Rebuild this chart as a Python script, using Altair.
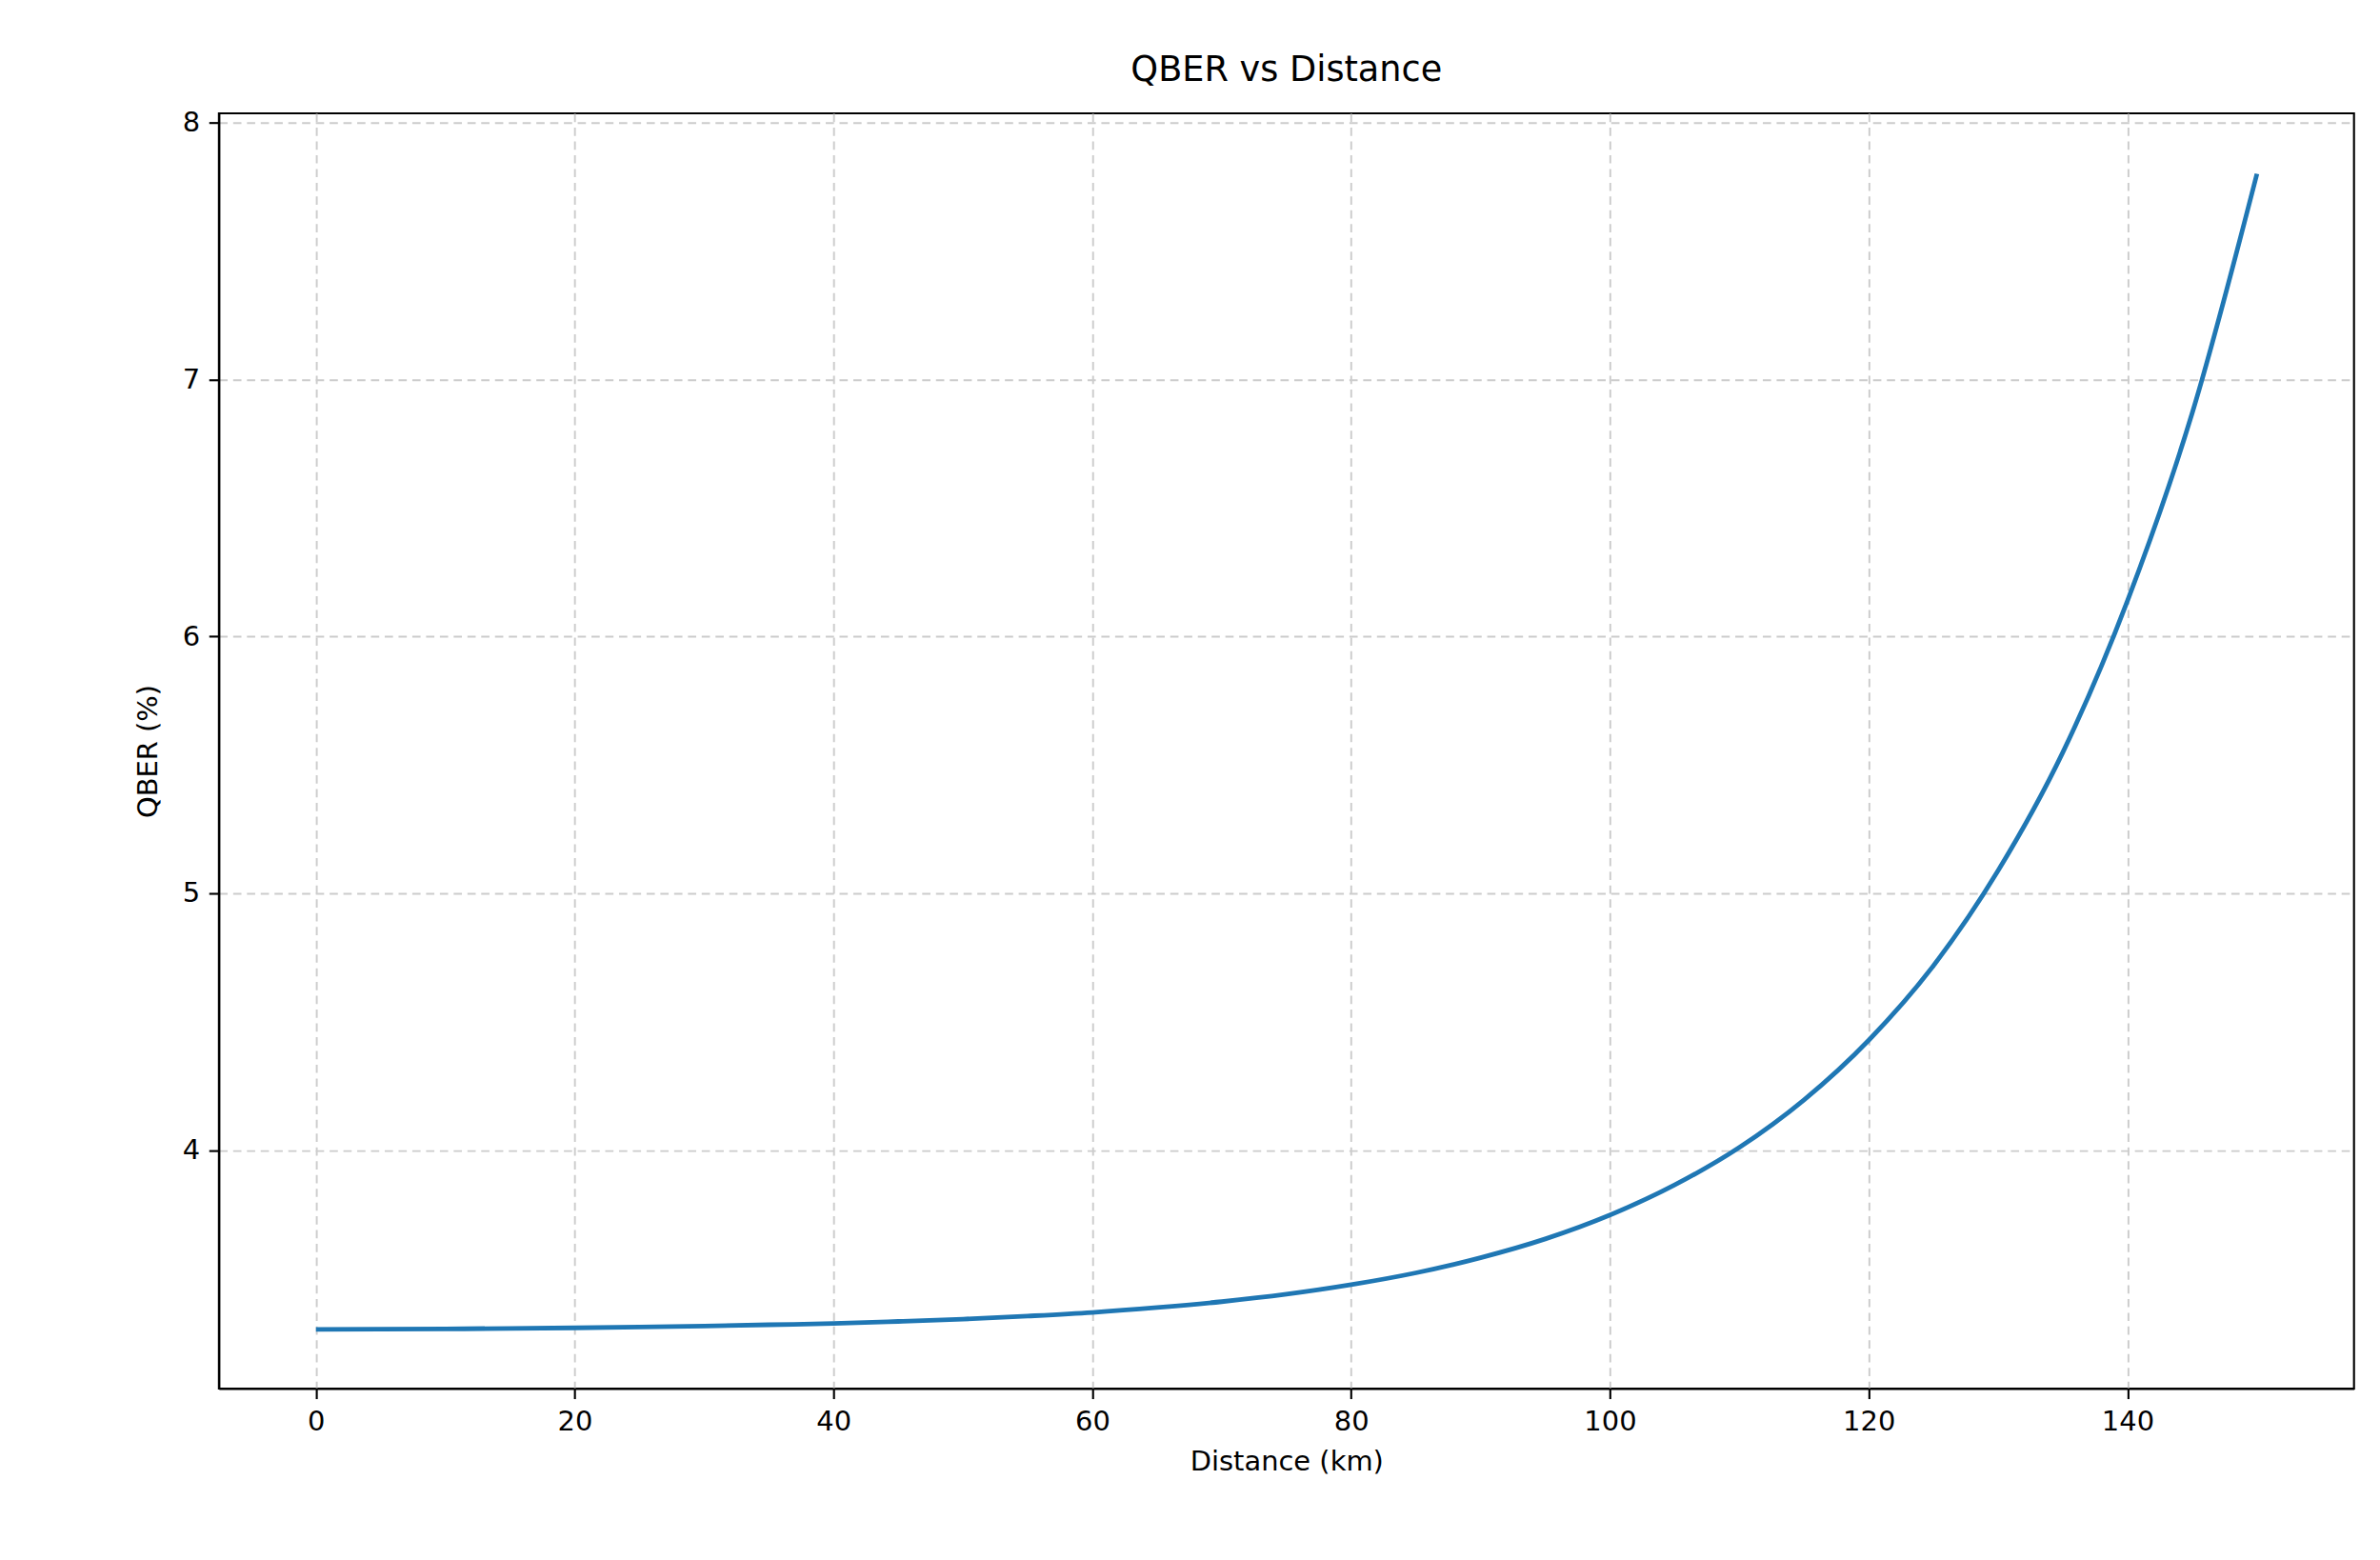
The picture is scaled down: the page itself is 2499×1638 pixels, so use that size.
import altair as alt
import pandas as pd

distance = list(range(0, 151, 5))
qber = [3.305, 3.306, 3.307, 3.309, 3.311, 3.314, 3.318, 3.323, 3.328, 3.336,
        3.345, 3.357, 3.371, 3.390, 3.413, 3.442, 3.479, 3.525, 3.584, 3.657,
        3.750, 3.867, 4.013, 4.198, 4.430, 4.720, 5.090, 5.550, 6.140, 6.870, 7.800]
df = pd.DataFrame({"d": distance, "q": qber})

F = "DejaVu Sans"
chart = alt.Chart(df).mark_line(color="#1f77b4", strokeWidth=5, interpolate="monotone").encode(
    x=alt.X("d:Q", title="Distance (km)", scale=alt.Scale(domain=[-7.5, 157.5], nice=False, zero=False),
            axis=alt.Axis(values=[0, 20, 40, 60, 80, 100, 120, 140], titlePadding=14)),
    y=alt.Y("q:Q", title="QBER (%)", scale=alt.Scale(domain=[3.075, 8.035], nice=False, zero=False),
            axis=alt.Axis(values=[4, 5, 6, 7, 8], titlePadding=22)),
).properties(
    width=2324, height=1388,
    title=alt.Title("QBER vs Distance", fontSize=38, font=F, fontWeight="normal", offset=22),
    padding={"left": 137, "top": 20, "right": 20, "bottom": 20},
).configure_view(stroke="black", strokeWidth=2.2).configure_axis(
    labelFont=F, titleFont=F, labelFontSize=30, titleFontSize=30, titleFontWeight="normal",
    labelColor="black", titleColor="black", domainColor="black", tickColor="black",
    tickSize=11, tickWidth=2.2, domainWidth=2.2, labelPadding=10,
    gridColor="#cccccc", gridDash=[9, 6], gridWidth=2,
)
chart.save("out.html", embed_options={"renderer": "svg", "actions": False})
